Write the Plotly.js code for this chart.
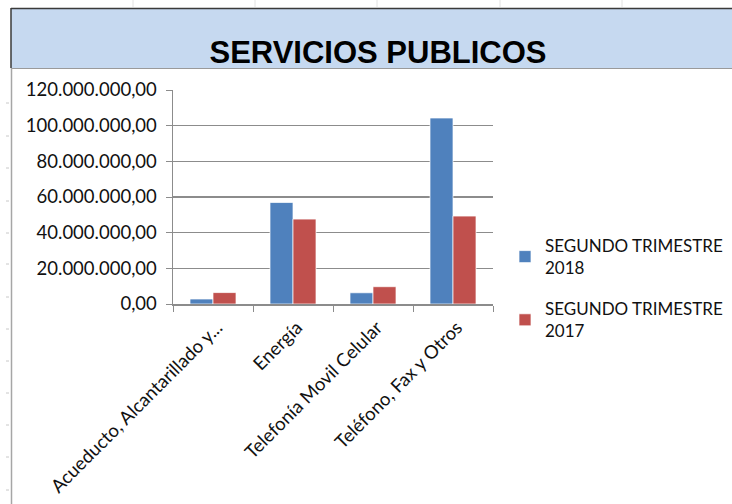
<!DOCTYPE html>
<html>
<head>
<meta charset="utf-8">
<script src="https://cdn.plot.ly/plotly-3.0.1.min.js"></script>
<style>
html,body{margin:0;padding:0;background:#fff;}
#chart{width:732px;height:504px;}
</style>
</head>
<body>
<div id="chart"></div>
<script>
// ---- data ----
const categories = ["Acueducto, Alcantarillado y...", "Energía", "Telefonía Movil Celular", "Teléfono, Fax y Otros"];
const serie2018 = [2800000, 56900000, 6300000, 104300000];
const serie2017 = [6400000, 47600000, 9700000, 49300000];
const seriesNames = ["SEGUNDO TRIMESTRE<br>2018", "SEGUNDO TRIMESTRE<br>2017"];
const yTickValues = [0, 20000000, 40000000, 60000000, 80000000, 100000000, 120000000];
const chartTitle = "SERVICIOS PUBLICOS";

// ---- geometry helpers (pixels -> paper) ----
const W = 732, H = 504;
const L = 173, R = 493, T = 90, B = 304;
const px = x => (x - L) / (R - L);
const py = y => (B - y) / (B - T);

const font = "Lato, 'Open Sans', sans-serif";
const gridCol = "#8c8c8c";

const traces = [
  {type: "bar", x: categories, y: serie2018, name: seriesNames[0], legendgroup: "a",
   marker: {color: "#4f81bd", line: {color: "rgba(255,255,255,0.7)", width: 1}}},
  {type: "bar", x: categories, y: serie2017, name: seriesNames[1], legendgroup: "b",
   marker: {color: "#c0504d", line: {color: "rgba(255,255,255,0.7)", width: 1}}}
];

const shapes = [];
// title band
shapes.push({type: "rect", xref: "paper", yref: "paper", x0: px(11), x1: px(733), y0: py(68), y1: py(8.5),
  fillcolor: "#c6d9f0", line: {width: 0}, layer: "below"});
shapes.push({type: "line", xref: "paper", yref: "paper", x0: px(11), x1: px(733), y0: py(8.5), y1: py(8.5),
  line: {color: "#3a3a3a", width: 1.5}});
shapes.push({type: "line", xref: "paper", yref: "paper", x0: px(11), x1: px(733), y0: py(68.5), y1: py(68.5),
  line: {color: "#9a9a9a", width: 1}});
shapes.push({type: "line", xref: "paper", yref: "paper", x0: px(11), x1: px(11), y0: py(8), y1: py(68),
  line: {color: "#3a3a3a", width: 1.5}});
shapes.push({type: "line", xref: "paper", yref: "paper", x0: px(11.5), x1: px(11.5), y0: py(68), y1: py(505),
  line: {color: "#a6a6a6", width: 1.5}});
// spreadsheet row marks on the left
[103,136,168,201,233,264,297,329,361,393,425,457,490].forEach(y => {
  shapes.push({type: "line", xref: "paper", yref: "paper", x0: px(6), x1: px(9), y0: py(y), y1: py(y),
    line: {color: "#c8c8c8", width: 1}});
});
// spreadsheet column marks on top
[133,255,377,500,622].forEach(x => {
  shapes.push({type: "line", xref: "paper", yref: "paper", x0: px(x), x1: px(x), y0: py(0), y1: py(7),
    line: {color: "#e2e2e2", width: 1}});
});

const layout = {
  width: W, height: H,
  margin: {l: L, r: W - R, t: T, b: H - B, pad: 0, autoexpand: false},
  paper_bgcolor: "#ffffff", plot_bgcolor: "#ffffff",
  separators: ",.",
  barmode: "group", bargap: 0.425, bargroupgap: 0,
  title: {text: chartTitle, x: 378 / W, xanchor: "center", y: 1 - 52 / H, yanchor: "middle",
    xref: "container", yref: "container",
    font: {family: "'Liberation Sans', Arial, sans-serif", size: 31, color: "#000", weight: "bold"}},
  xaxis: {
    type: "category", tickson: "boundaries", ticks: "outside", ticklen: 6, tickcolor: gridCol, tickwidth: 1,
    showline: true, linecolor: gridCol, linewidth: 1.5, showgrid: false, zeroline: false,
    tickangle: -45, tickfont: {family: font, size: 18.5, color: "#111"}, automargin: false,
    ticklabelstandoff: 4, ticklabelshift: 4,
    range: [-0.5, 3.5]
  },
  yaxis: {
    range: [0, 120000000], tickvals: yTickValues, tickformat: ",.2f",
    ticks: "outside", ticklen: 6, tickcolor: gridCol, tickwidth: 1, ticklabelstandoff: 5,
    showline: true, linecolor: gridCol, linewidth: 1.5,
    showgrid: true, gridcolor: gridCol, gridwidth: 1.2, zeroline: false,
    tickfont: {family: font, size: 18.5, color: "#111"}, automargin: false
  },
  showlegend: true,
  legend: {xref: "container", yref: "container", x: 505 / W, xanchor: "left", y: 1 - 228 / H, yanchor: "top",
    traceorder: "grouped", tracegroupgap: 16,
    font: {family: font, size: 17, color: "#111"}, bgcolor: "rgba(0,0,0,0)", borderwidth: 0},
  shapes: shapes
};

Plotly.newPlot("chart", traces, layout, {displayModeBar: false, staticPlot: true});
</script>
</body>
</html>
